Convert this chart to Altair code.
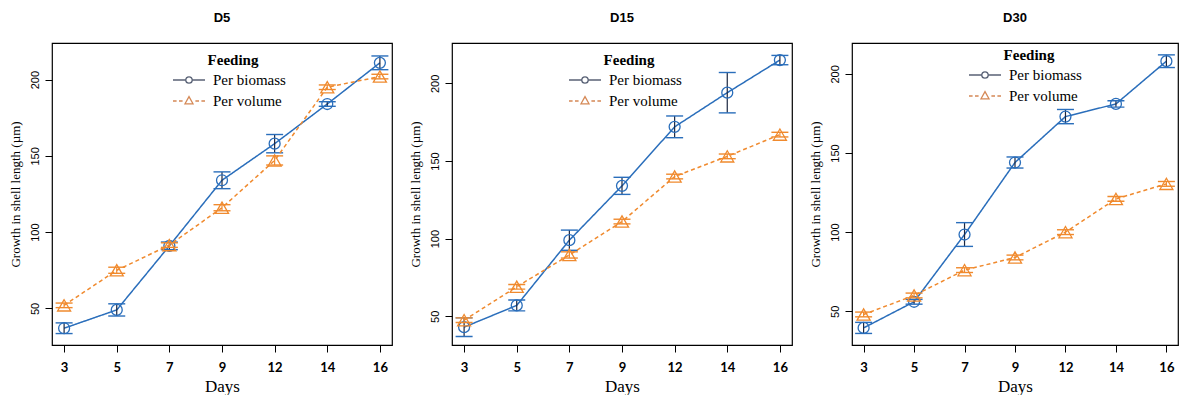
import altair as alt
import pandas as pd

days = ["3", "5", "7", "9", "12", "14", "16"]
feeds = ["Per biomass", "Per volume"]

d5_biomass = [37, 49, 91, 134, 158, 184, 211]
d5_biomass_err = [3.5, 4, 2.5, 5.5, 6, 1.5, 4.5]
d5_volume = [52, 75, 91.5, 116, 147, 195, 202]
d5_volume_err = [1.5, 2, 1.5, 2, 3, 1.5, 1.5]

d15_biomass = [43, 57, 99, 134, 172, 194, 215]
d15_biomass_err = [6, 3.5, 6.5, 5.5, 7, 13, 3]
d15_volume = [47.5, 69, 89.5, 111, 140, 153, 167]
d15_volume_err = [1.5, 1.5, 2, 1.5, 1.5, 1.5, 1.5]

d30_biomass = [39.5, 56, 98.5, 144, 173, 181, 208]
d30_biomass_err = [3.5, 1.5, 7.5, 3.5, 4.5, 2, 4]
d30_volume = [48, 60, 76, 84, 100, 121, 130.5]
d30_volume_err = [1.5, 1.5, 1.5, 1.5, 1.5, 1.5, 1.5]

panel_titles = ["D5", "D15", "D30"]
y_domains = [[26, 224], [31.5, 226], [28.7, 219.5]]

BLUE = "#2a6ebb"
ORANGE = "#f08a2e"
BLUE_RULE = "#1b2740"
LEG_COLORS = ["#14213d", "#c4570f"]

SERIF = "Liberation Serif"
SANS = "Liberation Sans"

# legend symbols (custom paths: line with marker)
path_biomass = ("M-2,0L-0.4,0M0.4,0L2,0"
                "M0.4,0A0.4,0.4,0,1,1,-0.4,0A0.4,0.4,0,1,1,0.4,0")
path_volume = ("M-2,0L-1.55,0M-1.25,0L-0.8,0M0.8,0L1.25,0M1.55,0L2,0"
               "M0,-0.55L0.5,0.35L-0.5,0.35Z")


def make_panel(title, b, be, v, ve, dom, width, lx, ly):
    rows = []
    for feed, vals, errs in [(feeds[0], b, be), (feeds[1], v, ve)]:
        for d, val, e in zip(days, vals, errs):
            rows.append({"Days": d, "Feeding": feed, "value": val,
                         "lo": val - e, "hi": val + e})
    df = pd.DataFrame(rows)

    x = alt.X("Days:O", sort=days, title="Days",
              scale=alt.Scale(type="point", padding=0.23),
              axis=alt.Axis(labelAngle=0, labelFont="Lato", labelFontWeight="bold",
                            labelFontSize=13, labelColor="black", tickSize=7,
                            tickColor="black", tickWidth=1, domain=False,
                            labelPadding=9, titleFont=SERIF, titleFontSize=17,
                            titleFontWeight="normal", titleColor="black",
                            titlePadding=4))
    y = alt.Y("value:Q", title="Growth in shell length (µm)",
              scale=alt.Scale(domain=dom, nice=False, zero=False),
              axis=alt.Axis(values=[50, 100, 150, 200], labelAngle=270,
                            labelAlign="center", labelBaseline="bottom",
                            labelFont=SANS, labelFontSize=11, labelColor="black",
                            tickSize=7, tickColor="black", domain=False, grid=False,
                            labelPadding=5, titleFont=SERIF, titleFontSize=13,
                            titleFontWeight="normal", titleColor="black",
                            titlePadding=7))

    base = alt.Chart(df)
    layers = []
    specs = [
        (feeds[0], BLUE, BLUE_RULE, [1, 0], "circle", 120),
        (feeds[1], ORANGE, ORANGE, [4, 3], "triangle-up", 170),
    ]
    for feed, col, rcol, dash, shp, sz in specs:
        sub = base.transform_filter(alt.datum.Feeding == feed)
        layers.append(sub.mark_line(strokeWidth=1.5, color=col, strokeDash=dash)
                      .encode(x=x, y=y))
        layers.append(sub.mark_rule(strokeWidth=1.2, color=rcol)
                      .encode(x=x, y="lo:Q", y2="hi:Q"))
        layers.append(sub.mark_tick(orient="horizontal", size=17, thickness=1.4,
                                    color=col, opacity=1)
                      .encode(x=x, y="lo:Q"))
        layers.append(sub.mark_tick(orient="horizontal", size=17, thickness=1.4,
                                    color=col, opacity=1)
                      .encode(x=x, y="hi:Q"))
        layers.append(sub.mark_point(shape=shp, size=sz, filled=False,
                                     strokeWidth=1.3, color=col, opacity=1)
                      .encode(x=x, y=y))

    leg = alt.Legend(title="Feeding", orient="none", legendX=lx, legendY=ly,
                     titleFont=SERIF, titleFontSize=15, titleFontWeight="bold",
                     titleColor="black", titleAnchor="middle", titleAlign="center",
                     titlePadding=3, labelFont=SERIF, labelFontSize=15,
                     labelColor="black", labelOffset=15, symbolSize=256,
                     symbolStrokeWidth=1.3, rowPadding=4, padding=0)
    legend_layer = (base.transform_filter("datum.value < -1000")
                    .mark_point(filled=False, size=256)
                    .encode(x=x, y=y,
                            stroke=alt.Stroke("Feeding:N",
                                              scale=alt.Scale(domain=feeds, range=LEG_COLORS),
                                              legend=leg),
                            shape=alt.Shape("Feeding:N",
                                            scale=alt.Scale(domain=feeds,
                                                            range=[path_biomass, path_volume]),
                                            legend=leg)))
    layers.append(legend_layer)

    return alt.layer(*layers).properties(
        width=width, height=302,
        view=alt.ViewBackground(stroke="black", strokeWidth=1.2),
        title=alt.TitleParams(title, font=SANS, fontSize=13, fontWeight="bold",
                              color="black", anchor="middle", offset=18))


charts = [
    make_panel("D5", d5_biomass, d5_biomass_err, d5_volume, d5_volume_err,
               y_domains[0], 340, 128, 10),
    make_panel("D15", d15_biomass, d15_biomass_err, d15_volume, d15_volume_err,
               y_domains[1], 340, 124, 10),
    make_panel("D30", d30_biomass, d30_biomass_err, d30_volume, d30_volume_err,
               y_domains[2], 326, 124, 5),
]

chart = (alt.hconcat(*charts, spacing=15)
         .resolve_scale(stroke="independent", shape="independent",
                        x="independent", y="independent")
         .resolve_legend(stroke="independent", shape="independent")
         .properties(padding={"left": 0, "top": 3, "right": 0, "bottom": 0},
                     background="white")
         .configure_view(stroke="black", strokeWidth=1.2))

chart.save("out.html", embed_options={"renderer": "svg", "actions": False})
